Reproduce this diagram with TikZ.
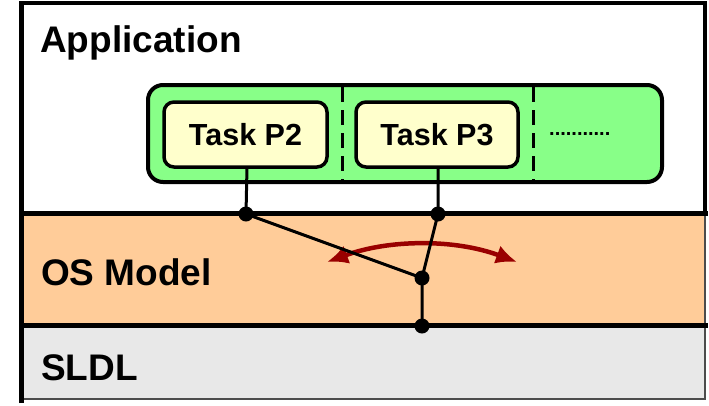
\documentclass[tikz,border=0pt]{standalone}
\usepackage{fontspec}
\setmainfont{Liberation Sans}
\usetikzlibrary{arrows.meta}
\definecolor{appgreen}{HTML}{88FF88}
\definecolor{taskyellow}{HTML}{FFFFCC}
\definecolor{osorange}{HTML}{FFCC99}
\definecolor{sldlgray}{HTML}{E8E8E8}
\definecolor{arrowred}{HTML}{990000}
\tikzset{
  band/.style={draw=black!70, line width=1.2pt},
  thick line/.style={draw=black, line width=5pt},
  taskbox/.style={draw=black, line width=3.5pt, fill=taskyellow, rounded corners=10pt},
  label/.style={font=\fontsize{37}{41}\selectfont\bfseries, anchor=base west, inner sep=0pt},
  tasklabel/.style={font=\fontsize{30.5}{34}\selectfont\bfseries, inner sep=0pt},
  wire/.style={draw=black, line width=3pt},
  joint/.style={circle, fill=black, inner sep=0pt, minimum size=15pt},
}
\begin{document}
\begin{tikzpicture}[x=1pt, y=-1pt]
\useasboundingbox (0,0) rectangle (709,405);
% bands
\path[band, fill=white] (21,3) rectangle (705,213);
\path[band, fill=osorange] (21,213) rectangle (705,325);
\path[band, fill=sldlgray] (21,325) rectangle (705,399);
% thick black lines
\draw[thick line] (21,403) -- (21,3);
\draw[draw=black, line width=4pt] (21,213) -- (21,3) -- (705,3) -- (705,213);
\draw[thick line, line cap=rect] (21,213) -- (705,213);
\draw[thick line, line cap=rect] (21,325) -- (705,325);
% labels
\node[label] (app) at (40,52) {Application};
\node[label] (os) at (41,285) {OS Model};
\node[label] (sldl) at (41,380) {SLDL};
% green container
\path[draw=black, line width=4pt, fill=appgreen, rounded corners=15pt] (148,85) rectangle (662,182);
\draw[black, line width=3pt, dash pattern=on 15pt off 8pt] (342,87) -- (342,180);
\draw[black, line width=3pt, dash pattern=on 15pt off 8pt] (533,87) -- (533,180);
% tasks
\path[taskbox] (164,102) rectangle (327,167);
\node[tasklabel] (p2) at (245.5,134.5) {Task P2};
\path[taskbox] (356,102) rectangle (518,167);
\node[tasklabel] (p3) at (437,134.5) {Task P3};
\node[font=\fontsize{20}{24}\selectfont\bfseries, anchor=base west, inner sep=0pt] (dots) at (549,135) {...........};
% joints
\coordinate (p2b) at (247,167);
\coordinate (p3b) at (438,167);
\node[joint] (j1) at (246,214) {};
\node[joint] (j2) at (438,214) {};
\node[joint] (j3) at (422,278) {};
\node[joint] (j4) at (422,326) {};
\coordinate (al) at (327,262);
\coordinate (ar) at (517,262);
% red arrow
\draw[arrowred, line width=4.5pt, {Latex[length=21pt, width=19pt]}-{Latex[length=21pt, width=19pt]}]
  (al) .. controls (390,239) and (455,239) .. (ar);
% wires
\draw[wire] (p2b) -- (j1.center) -- (j3.center) -- (j4.center);
\draw[wire] (p3b) -- (j2.center) -- (j3.center);
\end{tikzpicture}
\end{document}
